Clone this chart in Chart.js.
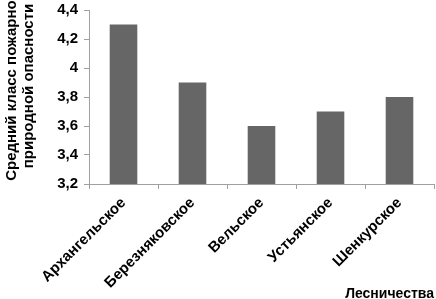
<!DOCTYPE html>
<html lang="ru">
<head>
    <meta charset="UTF-8">
    <title>Средний класс пожарной природной опасности</title>
    <style>
        body {
            margin: 0;
            background: white;
        }
        .chart-container {
            width: 436px;
            height: 299px;
        }
    </style>
</head>
<body>
    <div class="chart-container">
        <canvas id="fireChart"></canvas>
    </div>

    <script src="https://cdn.jsdelivr.net/npm/chart.js"></script>
    <script>
        // Данные по лесничествам
        const forestries = ['Архангельское', 'Березняковское', 'Вельское', 'Устьянское', 'Шенкурское'];
        const fireClass = [4.3, 3.9, 3.6, 3.7, 3.8];
        const yMin = 3.2;
        const yMax = 4.4;
        const yStep = 0.2;
        const yTitle = ['Средний класс пожарной', 'природной опасности'];
        const xTitle = 'Лесничества';

        const FONT = 'Arial, "Liberation Sans", sans-serif';
        const AXIS_COLOR = '#a0a0a0';

        // y axis title drawn by hand so it sits like the original (slightly above center)
        const yTitlePlugin = {
            id: 'yTitle',
            afterDraw(chart) {
                const ctx = chart.ctx;
                ctx.save();
                ctx.font = 'bold 15px ' + FONT;
                ctx.fillStyle = '#000';
                ctx.textAlign = 'center';
                ctx.textBaseline = 'middle';
                ctx.translate(11.5, 86);
                ctx.rotate(-Math.PI / 2);
                yTitle.forEach((line, i) => ctx.fillText(line, 0, i * 17));
                ctx.restore();
            }
        };

        new Chart(document.getElementById('fireChart'), {
            type: 'bar',
            data: {
                labels: forestries,
                datasets: [{
                    data: fireClass,
                    backgroundColor: '#666666',
                    borderWidth: 0,
                    categoryPercentage: 1,
                    barPercentage: 0.4
                }]
            },
            options: {
                responsive: true,
                maintainAspectRatio: false,
                animation: false,
                layout: { padding: { top: 10, right: 2, left: 0, bottom: 0 } },
                plugins: {
                    legend: { display: false },
                    tooltip: { enabled: false }
                },
                scales: {
                    x: {
                        grid: {
                            display: true,
                            drawOnChartArea: false,
                            tickLength: 5,
                            color: AXIS_COLOR
                        },
                        border: { color: AXIS_COLOR },
                        ticks: {
                            color: '#000',
                            font: { family: FONT, size: 15, weight: 'bold' },
                            minRotation: 45,
                            maxRotation: 45,
                            padding: 5
                        },
                        title: {
                            display: true,
                            text: xTitle,
                            align: 'end',
                            color: '#000',
                            font: { family: FONT, size: 14, weight: 'bold' },
                            padding: { top: 0, bottom: -4 }
                        },
                        afterFit(scale) {
                            scale.height = 115;
                            scale.paddingLeft = 0;
                            scale.paddingRight = 0;
                        }
                    },
                    y: {
                        min: yMin,
                        max: yMax,
                        grid: {
                            display: true,
                            drawOnChartArea: false,
                            tickLength: 5,
                            color: AXIS_COLOR
                        },
                        border: { color: AXIS_COLOR },
                        ticks: {
                            stepSize: yStep,
                            color: '#000',
                            font: { family: FONT, size: 15, weight: 'bold' },
                            padding: 6,
                            callback: v => String(Math.round(v * 10) / 10).replace('.', ',')
                        },
                        afterFit(scale) {
                            scale.width = 89;
                            scale.paddingTop = 0;
                            scale.paddingBottom = 0;
                        }
                    }
                }
            },
            plugins: [yTitlePlugin]
        });
    </script>
</body>
</html>
